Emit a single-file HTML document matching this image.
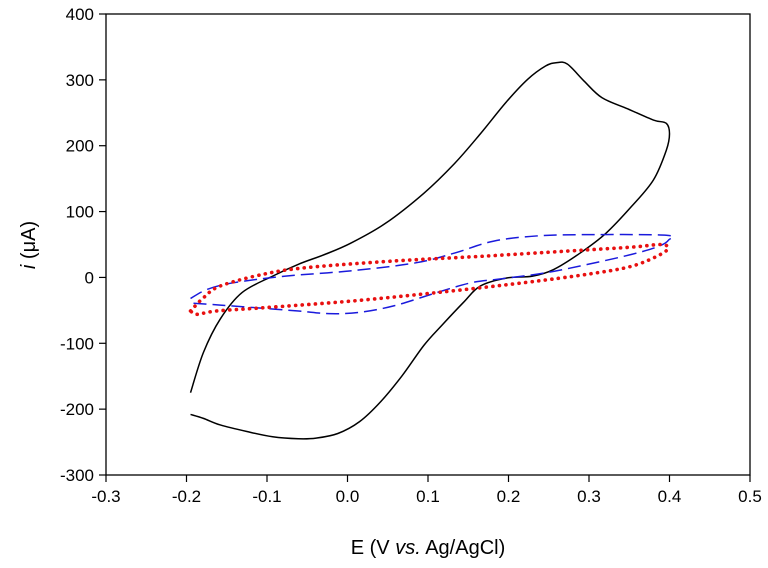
<!DOCTYPE html>
<html><head><meta charset="utf-8"><style>
body{margin:0;background:#fff}
svg{display:block;font-family:"Liberation Sans",Arial,sans-serif}
</style></head><body>
<svg id="chart" width="768" height="568" viewBox="0 0 768 568" xmlns="http://www.w3.org/2000/svg">
<g id="plot"></g>
</svg>
<script>
const xTicks=[-0.3,-0.2,-0.1,0.0,0.1,0.2,0.3,0.4,0.5];
const xTickLabels=["-0.3","-0.2","-0.1","0.0","0.1","0.2","0.3","0.4","0.5"];
const yTicks=[-300,-200,-100,0,100,200,300,400];
const yTickLabels=["-300","-200","-100","0","100","200","300","400"];
const blackE=[-0.195,-0.179,-0.158,-0.131,-0.093,-0.061,-0.028,0.004,0.047,0.095,0.133,0.165,0.197,0.224,0.246,0.259,0.273,0.294,0.316,0.348,0.380,0.396,0.400,0.396,0.380,0.353,0.321,0.289,0.256,0.230,0.197,0.165,0.144,0.117,0.095,0.068,0.041,0.015,-0.012,-0.039,-0.061,-0.093,-0.125,-0.158,-0.179,-0.195];
const blackI=[-175,-114,-63,-23,2,20,35,52,82,128,173,218,266,301,321,326,324,298,273,256,239,234,218,193,148,108,67,37,12,2,-1,-13,-38,-73,-103,-149,-189,-219,-237,-244,-245,-242,-234,-224,-214,-208];
const blueE=[-0.195,-0.174,-0.141,-0.077,0.004,0.084,0.133,0.181,0.235,0.299,0.396,0.399,0.386,0.353,0.299,0.246,0.192,0.154,0.111,0.058,0.015,-0.023,-0.061,-0.114,-0.158,-0.195];
const blueI=[-32,-18,-8,2,10,22,37,55,63,65,64,57,47,35,20,7,-2,-8,-23,-43,-53,-55,-51,-46,-42,-39];
const redE=[-0.195,-0.179,-0.158,-0.104,-0.050,0.058,0.165,0.273,0.353,0.389,0.398,0.389,0.353,0.299,0.219,0.111,0.004,-0.104,-0.163,-0.187,-0.195];
const redI=[-51,-31,-13,5,15,25,32,40,46,50,45,35,17,5,-8,-23,-36,-46,-51,-56,-51];

const L=106,R=750,T=14,B=475;
const sx=v=>L+(v-(-0.3))/(0.8)*(R-L);
const sy=v=>B-(v-(-300))/700*(B-T);
const NS="http://www.w3.org/2000/svg";
const g=document.getElementById('plot');
function mk(tag,attrs){const e=document.createElementNS(NS,tag);for(const k in attrs)e.setAttribute(k,attrs[k]);g.appendChild(e);return e;}

const frame=mk('rect',{x:L,y:T,width:R-L,height:B-T,fill:'none',stroke:'#000','stroke-width':1.3});



xTicks.forEach((v,i)=>{
  const t=mk('line',{x1:sx(v),x2:sx(v),y1:B,y2:B+7,stroke:'#000','stroke-width':1.2});
  
  
  const l=mk('text',{x:sx(v),y:B+27,'text-anchor':'middle','font-size':17,fill:'#000'});
  l.textContent=xTickLabels[i];
  
  
});
yTicks.forEach((v,i)=>{
  const t=mk('line',{x1:L-7,x2:L,y1:sy(v),y2:sy(v),stroke:'#000','stroke-width':1.2});
  
  
  const l=mk('text',{x:L-12,y:sy(v)+6,'text-anchor':'end','font-size':17,fill:'#000'});
  l.textContent=yTickLabels[i];
  
  
});

function pathD(xs,ys){
  const p=xs.map((x,i)=>[sx(x),sy(ys[i])]);
  let d=`M${p[0][0]},${p[0][1]}`;
  for(let i=0;i<p.length-1;i++){
    const p0=p[Math.max(0,i-1)],p1=p[i],p2=p[i+1],p3=p[Math.min(p.length-1,i+2)];
    const c1=[p1[0]+(p2[0]-p0[0])/6,p1[1]+(p2[1]-p0[1])/6];
    const c2=[p2[0]-(p3[0]-p1[0])/6,p2[1]-(p3[1]-p1[1])/6];
    d+=` C${c1[0]},${c1[1]} ${c2[0]},${c2[1]} ${p2[0]},${p2[1]}`;
  }
  return d;
}
const s1=mk('path',{d:pathD(blackE,blackI),fill:'none',stroke:'#000','stroke-width':1.5});


const s2=mk('path',{d:pathD(blueE,blueI),fill:'none',stroke:'#1a1adc','stroke-width':1.5,'stroke-dasharray':'13 6'});


const s3=mk('path',{d:pathD(redE,redI),fill:'none',stroke:'#e81010','stroke-width':3.6,'stroke-dasharray':'0.1 6.5','stroke-linecap':'round'});



const xt=mk('text',{x:428,y:554,'text-anchor':'middle','font-size':20,fill:'#000'});
xt.innerHTML='E (V <tspan font-style="italic">vs.</tspan> Ag/AgCl)';


const yt=mk('text',{x:0,y:0,'text-anchor':'middle','font-size':20,fill:'#000',transform:'translate(35,245) rotate(-90)'});
yt.innerHTML='<tspan font-style="italic">i</tspan> (μA)';


</script>
</body></html>
